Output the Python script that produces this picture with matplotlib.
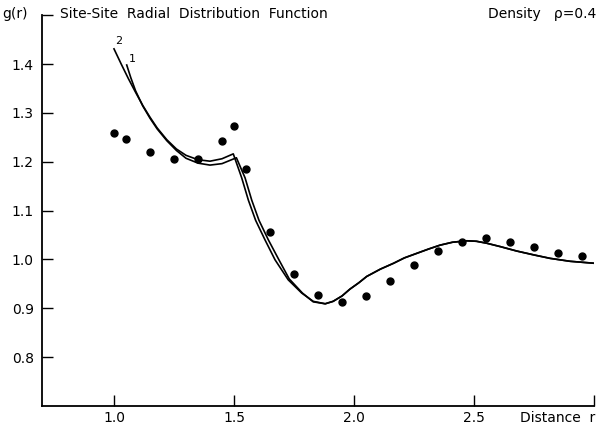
import matplotlib.pyplot as plt

# measured points
r_pts = [1.00, 1.05, 1.15, 1.25, 1.35, 1.45, 1.50, 1.55, 1.65, 1.75, 1.85,
         1.95, 2.05, 2.15, 2.25, 2.35, 2.45, 2.55, 2.65, 2.75, 2.85, 2.95]
g_pts = [1.259, 1.247, 1.220, 1.206, 1.206, 1.243, 1.273, 1.186, 1.055, 0.969, 0.927,
         0.912, 0.925, 0.956, 0.988, 1.018, 1.035, 1.043, 1.035, 1.025, 1.014, 1.006]

# common tail of both curves
r_tail = [1.88, 1.913, 1.95, 1.983, 2.02, 2.053, 2.11, 2.165, 2.21, 2.26, 2.31, 2.358,
          2.41, 2.47, 2.51, 2.553, 2.61, 2.678, 2.75, 2.817, 2.90, 3.00]
g_tail = [0.909, 0.914, 0.925, 0.939, 0.952, 0.965, 0.980, 0.992, 1.003, 1.012, 1.021, 1.029,
          1.035, 1.038, 1.037, 1.033, 1.026, 1.017, 1.009, 1.002, 0.996, 0.992]

# curve 2
r_c2 = [1.00, 1.03, 1.06, 1.09, 1.12, 1.15, 1.18, 1.22, 1.26, 1.30, 1.35, 1.40, 1.45, 1.497,
        1.532, 1.56, 1.59, 1.629, 1.671, 1.726, 1.782, 1.83] + r_tail
g_c2 = [1.431, 1.400, 1.370, 1.342, 1.315, 1.291, 1.269, 1.245, 1.226, 1.213, 1.204, 1.201, 1.206, 1.216,
        1.167, 1.121, 1.080, 1.040, 0.999, 0.958, 0.931, 0.914] + g_tail

# curve 1
r_c1 = [1.053, 1.07, 1.09, 1.12, 1.15, 1.18, 1.22, 1.26, 1.30, 1.35, 1.40, 1.45, 1.51,
        1.546, 1.574, 1.604, 1.643, 1.685, 1.73, 1.785, 1.83] + r_tail
g_c1 = [1.398, 1.372, 1.345, 1.314, 1.289, 1.267, 1.243, 1.223, 1.207, 1.197, 1.193, 1.196, 1.208,
        1.167, 1.121, 1.080, 1.040, 1.001, 0.960, 0.931, 0.913] + g_tail

x_ticks = [1.0, 1.5, 2.0, 2.5, 3.0]
x_labels = ["1.0", "1.5", "2.0", "2.5", ""]
y_ticks = [0.8, 0.9, 1.0, 1.1, 1.2, 1.3, 1.4, 1.5]
y_labels = ["0.8", "0.9", "1.0", "1.1", "1.2", "1.3", "1.4", ""]

plt.rcParams['font.family'] = ['DejaVu Sans']
fig = plt.figure(figsize=(5.99, 4.29), dpi=100)
ax = fig.add_axes([0.0701, 0.054, 0.9216, 0.9106])

ax.plot(r_c2, g_c2, color="black", lw=1.2)
ax.plot(r_c1, g_c1, color="black", lw=1.2)
ax.plot(r_pts, g_pts, "o", color="black", ms=5)

ax.text(1.005, 1.437, "2", fontsize=8, ha="left", va="bottom")
ax.text(1.06, 1.40, "1", fontsize=8, ha="left", va="bottom")

ax.set_xlim(0.7, 3.0)
ax.set_ylim(0.7, 1.5)
ax.set_xticks(x_ticks)
ax.set_xticklabels(x_labels)
ax.set_yticks(y_ticks)
ax.set_yticklabels(y_labels)
ax.tick_params(direction="in", length=8, width=1, labelsize=10)
ax.tick_params(axis="y", pad=6)
ax.tick_params(axis="x", pad=4)

for side in ["top", "right"]:
    ax.spines[side].set_visible(False)
for side in ["left", "bottom"]:
    ax.spines[side].set_linewidth(1.3)

fig.text(0.003, 0.967, "g(r)", fontsize=10, ha="left", va="center")
fig.text(0.100, 0.967, "Site-Site  Radial  Distribution  Function", fontsize=10, ha="left", va="center")
fig.text(0.995, 0.967, "Density   ρ=0.4", fontsize=10, ha="right", va="center")
fig.text(0.993, 0.025, "Distance  r", fontsize=10, ha="right", va="center")

fig.savefig("out.png", dpi=100)
